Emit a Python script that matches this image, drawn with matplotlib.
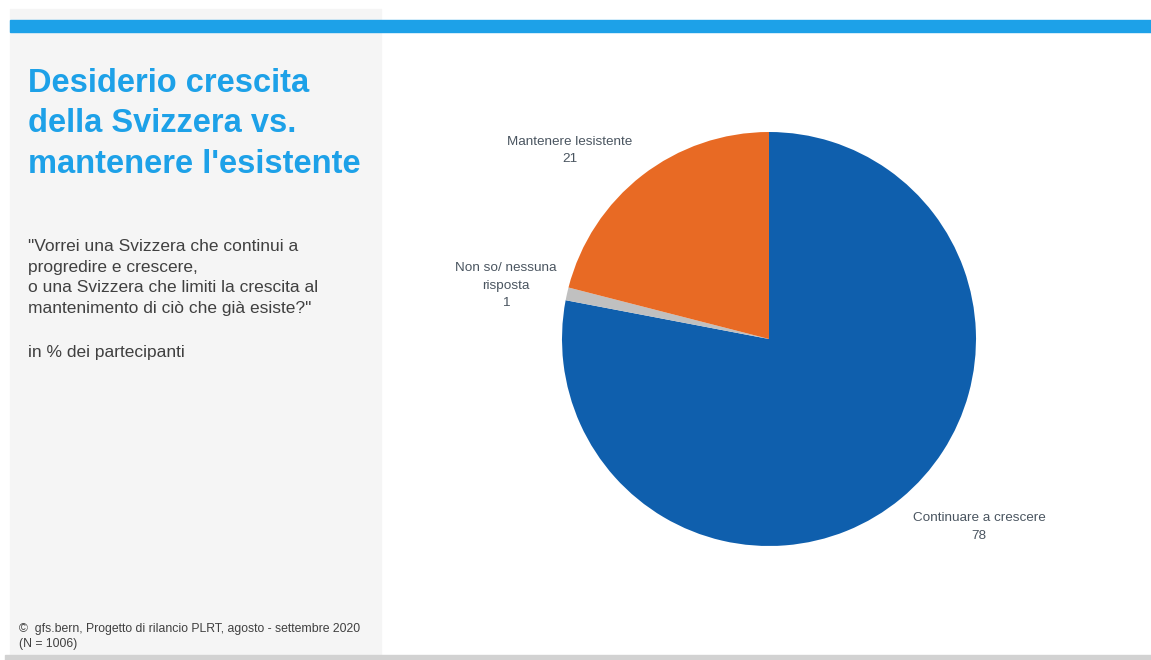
import matplotlib.pyplot as plt
import matplotlib.patches as mpatches

# data
labels = ["Continuare a crescere", "Non so/ nessuna\nrisposta", "Mantenere lesistente"]
values = [78, 1, 21]
colors = ["#0F5FAD", "#C0C0C0", "#E86A24"]

title_lines = ["Desiderio crescita", "della Svizzera vs.", "mantenere l'esistente"]
question_lines = ["\"Vorrei una Svizzera che continui a", "progredire e crescere,",
                  "o una Svizzera che limiti la crescita al",
                  "mantenimento di ciò che già esiste?\""]

W, H = 1151, 660
fig = plt.figure(figsize=(W / 100, H / 100), dpi=100)
plt.rcParams['font.family'] = ['Liberation Sans', 'DejaVu Sans']

def fx(x):
    return x / W

def fy(y):
    return 1 - y / H

# background panels
fig.patches.append(mpatches.Rectangle((fx(10), fy(655)), fx(371), 646 / H,
                                      transform=fig.transFigure, color="#F5F5F5", zorder=0))
fig.patches.append(mpatches.Rectangle((fx(10), fy(32)), fx(1141), 12 / H,
                                      transform=fig.transFigure, color="#1DA1E8", zorder=1))
fig.patches.append(mpatches.Rectangle((fx(5), 0), fx(1146), 5 / H,
                                      transform=fig.transFigure, color="#D2D2D2", zorder=1))

# left panel text, one line at a time
for i, line in enumerate(title_lines):
    fig.text(fx(28), fy(92 + i * 40.5), line, fontsize=23.5, fontweight="bold",
             color="#1DA1E8", va="baseline", ha="left")
for i, line in enumerate(question_lines):
    fig.text(fx(28), fy(251 + i * 20.7), line, fontsize=12.5, color="#404040", va="baseline")
fig.text(fx(28), fy(357), "in % dei partecipanti", fontsize=12.5, color="#404040", va="baseline")
fig.text(fx(19), fy(632), "©  gfs.bern, Progetto di rilancio PLRT, agosto - settembre 2020",
         fontsize=8.8, color="#404040", va="baseline")
fig.text(fx(19), fy(647), "(N = 1006)", fontsize=8.8, color="#404040", va="baseline")

# pie
ax = fig.add_axes([fx(562), fy(546), 414 / W, 414 / H])
ax.pie(values, colors=colors, startangle=90, counterclock=False, radius=1,
       wedgeprops=dict(linewidth=0))
ax.set_xlim(-1, 1)
ax.set_ylim(-1, 1)
ax.set_aspect("equal")
ax.axis("off")

lab_col = "#4A5560"
fig.text(fx(979), fy(527), labels[0] + "\n" + str(values[0]), fontsize=9.7, color=lab_col,
         ha="center", va="center", linespacing=1.6)
fig.text(fx(506), fy(285.5), labels[1] + "\n" + str(values[1]), fontsize=9.7, color=lab_col,
         ha="center", va="center", linespacing=1.6)
fig.text(fx(570), fy(150.5), labels[2] + "\n" + str(values[2]), fontsize=9.7, color=lab_col,
         ha="center", va="center", linespacing=1.6)

fig.savefig("out.png", dpi=100, facecolor="white")
